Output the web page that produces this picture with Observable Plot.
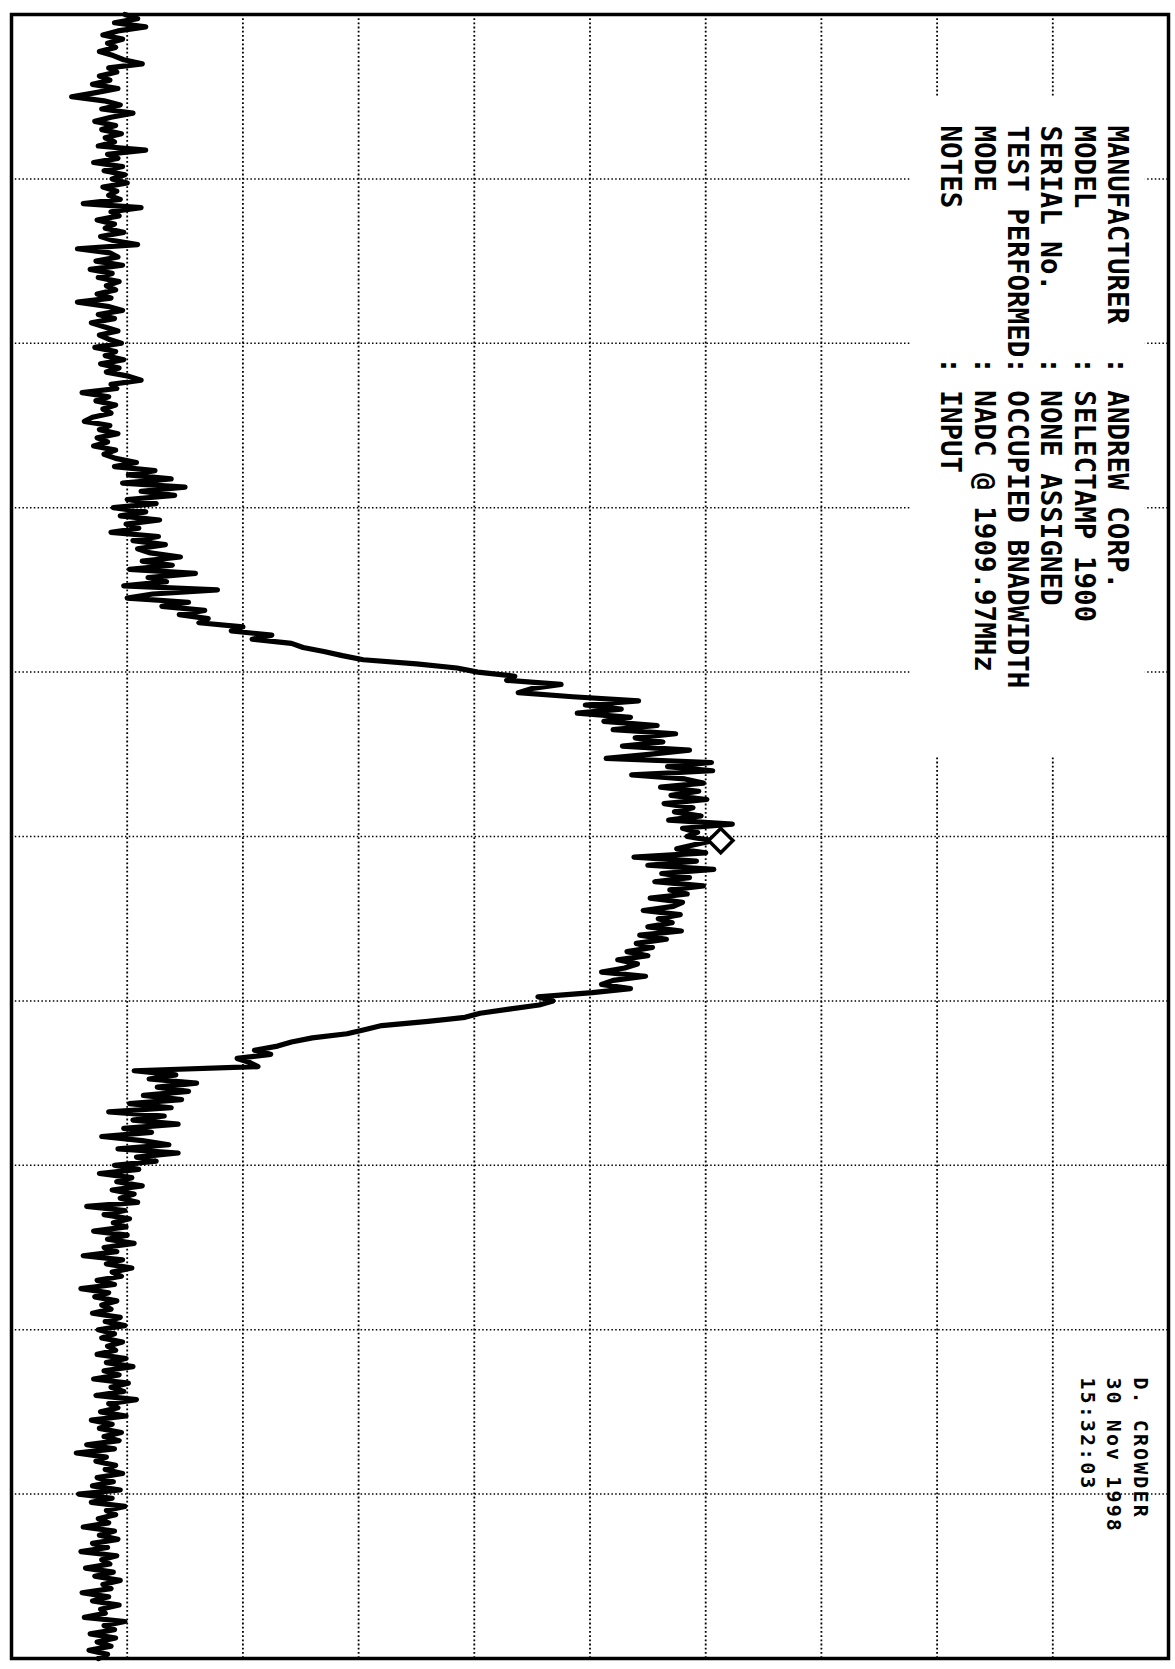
<!DOCTYPE html>
<html><head><meta charset="utf-8">
<script src="https://cdn.jsdelivr.net/npm/d3@7"></script>
<script src="https://cdn.jsdelivr.net/npm/@observablehq/plot@0.6"></script>
<style>
html,body{margin:0;padding:0;background:#fff;}
svg text{white-space:pre;}
</style></head><body><div id="chart"></div>
<script>
// Trace level, in tenths of a division above the left edge (10 dB/div), one value per sweep point (401 points)
const level = [
9.8,10.9,8.9,11.6,9.2,7.9,9.6,8.3,9.0,7.6,8.8,9.7,11.3,8.4,9.1,7.6,8.5,7.0,9.2,7.3,
5.2,8.0,9.4,7.8,10.5,8.6,7.2,9.0,7.8,9.5,8.1,8.9,7.5,11.6,8.3,9.2,7.1,9.6,8.0,9.8,
8.7,10.0,7.9,9.1,8.4,9.4,6.2,11.2,8.6,9.3,7.4,8.9,8.1,9.7,7.7,8.8,10.9,5.7,8.5,9.2,
7.3,9.6,6.8,8.7,7.5,9.3,8.2,9.0,7.4,8.6,5.7,8.3,9.6,7.5,8.9,6.9,8.0,9.2,7.6,8.4,
9.5,7.2,9.0,8.1,9.7,7.7,9.3,8.2,10.1,11.2,8.6,9.1,6.1,8.4,7.3,9.0,7.9,8.6,7.0,6.3,
8.5,7.6,9.2,7.4,8.3,7.1,9.0,8.0,9.0,10.8,8.9,12.4,10.1,13.8,9.6,15.0,11.2,14.1,10.0,12.5,
8.8,11.6,9.4,12.8,9.9,11.0,8.6,12.7,10.5,13.3,10.9,12.0,14.6,11.3,13.9,10.2,15.9,11.8,13.4,9.7,
17.8,12.2,10.0,15.3,13.0,16.7,14.5,17.0,16.2,20.0,19.0,22.5,20.8,24.2,25.2,27.0,28.6,30.4,35.0,38.5,
40.3,43.5,42.8,47.5,45.0,43.8,48.5,54.2,49.6,52.7,48.9,53.5,51.2,55.8,52.0,57.4,53.9,56.3,52.8,58.6,
55.1,51.4,60.5,56.7,60.6,53.6,58.2,59.8,56.1,59.4,57.0,60.1,56.4,58.9,57.3,59.6,56.8,62.3,58.0,59.3,
58.4,60.6,59.0,57.5,60.0,53.8,59.2,55.0,60.7,56.2,58.6,55.6,59.8,56.9,58.4,55.2,58.0,57.2,54.6,57.8,
55.9,57.1,55.0,57.9,54.3,56.6,54.0,55.4,53.2,55.0,52.4,54.1,53.0,51.0,54.8,52.0,51.0,53.5,50.2,45.5,
46.8,45.6,43.0,40.5,39.2,36.0,32.0,30.5,29.0,26.0,24.2,23.0,21.0,22.4,19.5,20.6,21.3,10.6,14.2,11.9,
16.0,12.6,15.3,11.4,14.7,10.2,13.8,8.4,13.2,10.5,14.4,9.7,12.1,7.8,11.3,13.6,9.2,14.4,10.8,12.5,
8.9,11.0,7.6,10.4,9.1,11.3,8.7,10.6,9.4,10.9,6.5,9.8,8.0,10.2,8.8,9.9,7.1,10.0,8.3,10.6,
8.0,9.1,6.2,9.6,8.2,10.4,8.7,9.5,7.4,8.9,6.0,8.4,7.2,9.1,7.8,8.6,7.0,9.4,8.1,9.8,
7.5,8.9,7.8,9.6,8.3,9.0,7.4,9.9,8.2,10.5,8.0,9.3,7.1,10.1,8.6,9.7,7.3,10.8,8.4,9.2,
7.7,9.9,6.9,8.7,7.6,9.5,8.0,9.3,6.5,8.9,5.6,8.2,7.3,9.0,8.1,9.6,7.4,8.8,7.0,9.4,
5.8,8.7,6.9,9.8,8.2,9.0,7.5,8.4,6.2,8.9,7.6,9.2,7.0,8.3,6.0,9.1,7.8,8.5,6.4,8.8,
7.2,9.4,7.9,8.6,6.1,8.4,7.0,9.3,7.7,8.1,6.3,9.8,8.0,8.9,6.8,9.0,7.4,8.6,6.7,8.3,
7.5
];

// Peak marker (sweep point, level)
const markerPoint = [201];
const markerLevel = [61.3];

// Graticule: 10 divisions each way
const levelGrid = [10, 20, 30, 40, 50, 60, 70, 80, 90];
const pointGrid = [40, 80, 120, 160, 200, 240, 280, 320, 360];

// Annotation text
const headerLabels = ["MANUFACTURER", "MODEL", "SERIAL No.", "TEST PERFORMED", "MODE", "NOTES"];
const headerValues = ["ANDREW CORP.", "SELECTAMP 1900", "NONE ASSIGNED", "OCCUPIED BNADWIDTH", "NADC @ 1909.97MHz", "INPUT"];
const footerLines = ["D. CROWDER", "30 Nov 1998", "15:32:03"];

// ---- layout (positions in chart units) ----
const layout = {
  headerX0: 94.8, headerStep: 2.89, headerY: 27.0,
  footerX0: 97.0, footerStep: 2.3, footerY: 331.6,
  box: {x1: 77.7, x2: 98.0, y1: 20.4, y2: 180.8}
};

const trace = level.map((v, i) => ({point: i, level: v}));
const header = headerLabels.map((l, k) => ({
  t: l.padEnd(14, " ") + ": " + headerValues[k],
  x: layout.headerX0 - k * layout.headerStep,
  y: layout.headerY
}));
const footer = footerLines.map((l, k) => ({
  t: l, x: layout.footerX0 - k * layout.footerStep, y: layout.footerY
}));
const marker = markerPoint.map((p, k) => ({point: p, level: markerLevel[k]}));

const plot = Plot.plot({
  width: 1175, height: 1669,
  marginLeft: 11, marginRight: 7, marginTop: 14, marginBottom: 11,
  x: {domain: [0, 100], axis: null},
  y: {domain: [0, 400], reverse: true, axis: null},
  style: {background: "white"},
  marks: [
    Plot.ruleX(levelGrid, {stroke: "black", strokeWidth: 1.8, strokeDasharray: "1.8,2.4"}),
    Plot.ruleY(pointGrid, {stroke: "black", strokeWidth: 1.5, strokeDasharray: "1.5,2.3"}),
    Plot.rect([layout.box], {x1: "x1", x2: "x2", y1: "y1", y2: "y2", fill: "white"}),
    Plot.line(trace, {x: "level", y: "point", stroke: "black", strokeWidth: 5.2, strokeLinejoin: "round", strokeLinecap: "round"}),
    Plot.dot(marker, {x: "level", y: "point", symbol: "diamond2", r: 11, stroke: "black", strokeWidth: 3.5, fill: "white"}),
    Plot.text(header, {x: "x", y: "y", text: "t", rotate: 90, textAnchor: "start", lineAnchor: "bottom",
      fontFamily: "DejaVu Sans Mono", fontWeight: "bold", fontSize: 27.5, fill: "black"}),
    Plot.text(footer, {x: "x", y: "y", text: "t", rotate: 90, textAnchor: "start", lineAnchor: "bottom",
      fontFamily: "DejaVu Sans Mono", fontWeight: "bold", fontSize: 20, fill: "black"}),
    Plot.frame({stroke: "black", strokeWidth: 3.5})
  ]
});
d3.select(plot).selectAll("text")
  .filter(function() { return footerLines.includes(this.textContent); })
  .style("letter-spacing", "2.1px");
document.getElementById("chart").appendChild(plot);
</script></body></html>
